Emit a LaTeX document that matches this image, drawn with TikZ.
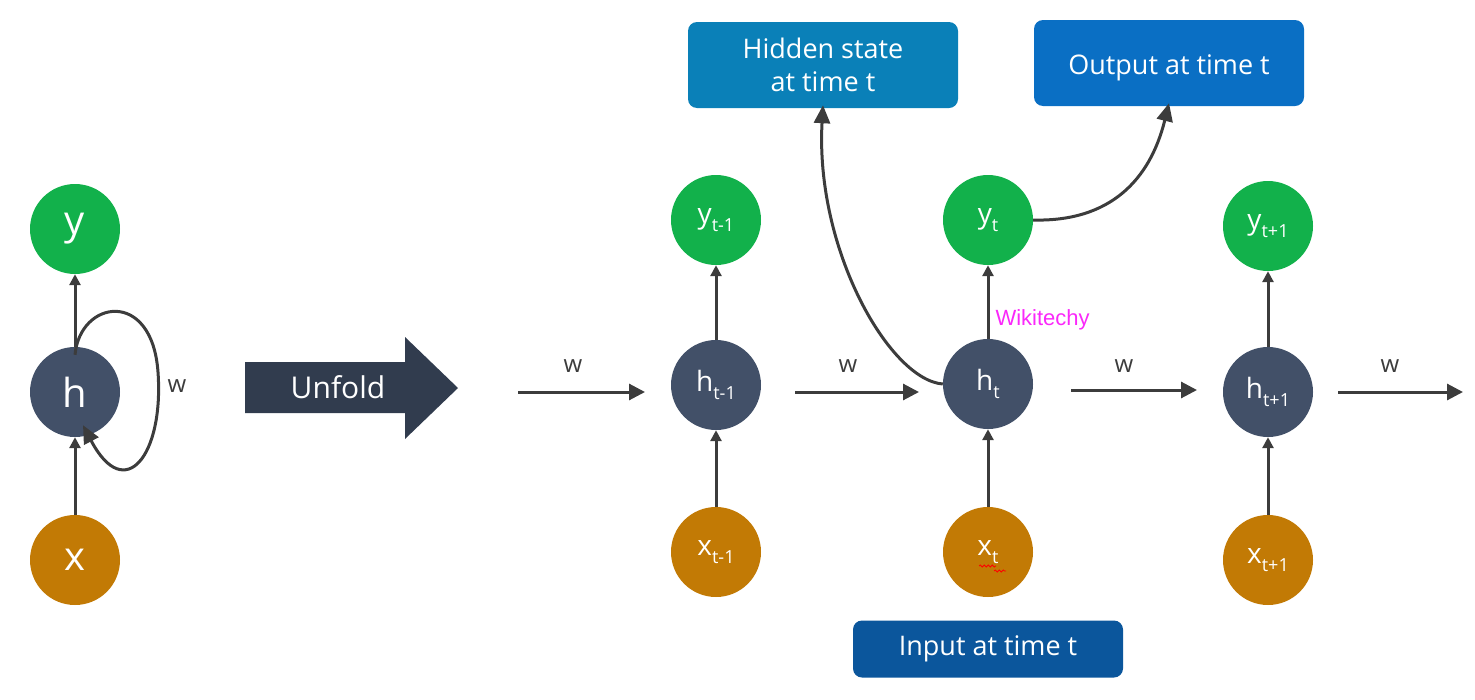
\documentclass[tikz,border=0pt]{standalone}
\usepackage{fontspec}
\setmainfont{Open Sans}
\newfontfamily\wmfont{Liberation Sans}
\usetikzlibrary{arrows.meta,decorations.pathmorphing}
\definecolor{ygreen}{HTML}{12B14B}
\definecolor{hslate}{HTML}{425068}
\definecolor{xorange}{HTML}{C27A05}
\definecolor{hidbox}{HTML}{0A80B8}
\definecolor{outbox}{HTML}{0A6FC4}
\definecolor{inbox}{HTML}{0B569C}
\definecolor{unfoldc}{HTML}{313C4E}
\definecolor{arrowc}{HTML}{3C3C3C}
\definecolor{wmcol}{RGB}{250,40,250}
\newcommand\subs[1]{\raisebox{-0.3em}{\fontsize{18}{18}\selectfont #1}}
\begin{document}
\begin{tikzpicture}[x=1pt,y=-1pt,
  circ/.style={circle, minimum size=90pt, inner sep=0pt, text=white, font=\fontsize{28}{28}\selectfont},
  bigcirc/.style={circ, font=\fontsize{40}{40}\selectfont},
  ycol/.style={fill=ygreen},
  hcol/.style={fill=hslate},
  xcol/.style={fill=xorange},
  conn/.style={draw=arrowc, line width=3pt, -{Triangle[length=11pt,width=11pt]}},
  hconn/.style={draw=arrowc, line width=3pt, -{Triangle[length=16pt,width=16pt]}},
  curvconn/.style={draw=arrowc, line width=3pt, -{Triangle[length=18pt,width=16pt]}},
  wlab/.style={text=arrowc, font=\fontsize{24}{24}\selectfont},
  infobox/.style={rounded corners=9pt, text=white, font=\fontsize{27}{33}\selectfont, align=center, minimum width=270pt, inner sep=0pt}
]
\useasboundingbox (0,0) rectangle (1475,699);

% folded network
\node[bigcirc, ycol] (y) at (75,229) {y};
\node[bigcirc, hcol] (h) at (75,392) {h};
\node[bigcirc, xcol] (x) at (75,560) {x};
\draw[conn] (h.north) -- (y.south);
\draw[conn] (x.north) -- (h.south);
\draw[curvconn] ([yshift=-8pt]h.north) .. controls (80,300) and (152,288) .. (158,372)
  .. controls (164,455) and (125,505) .. ([xshift=8pt,yshift=12pt]h.south);
\node[wlab] (wloop) at (177,386) {w};

% unfold arrow
\fill[unfoldc] (245,362) -- (405,362) -- (405,337) -- (458,388) -- (405,439) -- (405,413) -- (245,413) -- cycle;
\node[text=white, font=\fontsize{30}{30}\selectfont] (unf) at (338,387) {Unfold};

% unfolded network
\node[circ, ycol] (y1) at (716,220) {y\subs{t-1}};
\node[circ, hcol] (h1) at (716,385) {h\subs{t-1}};
\node[circ, xcol] (x1) at (716,552) {x\subs{t-1}};
\node[circ, ycol] (y2) at (988,220) {y\subs{t}};
\node[circ, hcol] (h2) at (988,384) {h\subs{t}};
\node[circ, xcol] (x2) at (988,552) {x\subs{t}};
\node[circ, ycol] (y3) at (1268,226) {y\subs{t+1}};
\node[circ, hcol] (h3) at (1268,392) {h\subs{t+1}};
\node[circ, xcol] (x3) at (1268,560) {x\subs{t+1}};

\foreach \i in {1,2,3}{
  \draw[conn] (h\i.north) -- (y\i.south);
  \draw[conn] (x\i.north) -- (h\i.south);
}

\coordinate (a0) at (518,392);  \coordinate (b0) at (645,392);
\coordinate (a1) at (795,392);  \coordinate (b1) at (919,392);
\coordinate (a2) at (1071,390); \coordinate (b2) at (1197,390);
\coordinate (a3) at (1338,392); \coordinate (b3) at (1463,392);
\foreach \i in {0,1,2,3}{ \draw[hconn] (a\i) -- (b\i); }
\node[wlab] (w0) at (573,366) {w};
\node[wlab] (w1) at (848,366) {w};
\node[wlab] (w2) at (1124,366) {w};
\node[wlab] (w3) at (1390,366) {w};

% info boxes
\node[infobox, fill=hidbox, minimum height=86pt] (hs) at (823,65) {Hidden state\\at time t};
\node[infobox, fill=outbox, minimum height=86pt, text depth=0pt] (ob) at (1169,63) {\raisebox{-4pt}{Output at time t}};
\node[infobox, fill=inbox, minimum height=57pt] (ib) at (988,649) {Input at time t};

\draw[curvconn] (h2.west) .. controls (890,380) and (815,250) .. ([yshift=3pt]hs.south);
\draw[curvconn] (y2.east) .. controls (1110,222) and (1150,180) .. ([yshift=3pt]ob.south);

% watermark
\node[anchor=west, text=wmcol, font=\wmfont\fontsize{22}{22}\selectfont] (wk) at (992,320) {Wikitechy};
% spell-check underline
\draw[red, line width=0.8pt, decorate, decoration={snake, amplitude=1pt, segment length=4pt}] (979,566) -- (996,566);
\draw[red, line width=0.8pt, decorate, decoration={snake, amplitude=1pt, segment length=4pt}] (994,571) -- (1006,571);
\end{tikzpicture}
\end{document}
